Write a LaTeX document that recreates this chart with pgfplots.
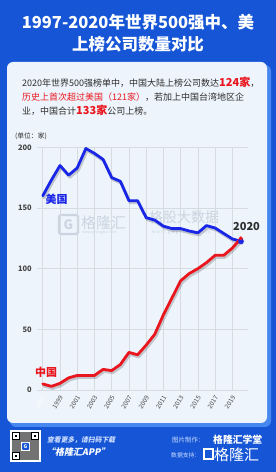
\documentclass[border=0pt]{standalone}
\usepackage{pgfplots}
\usepackage{pgfplotstable}
\pgfplotsset{compat=1.18}
\usepackage{fontspec}
\setmainfont{Noto Sans CJK SC}
\newfontfamily\cjkit{Noto Sans CJK SC}[FakeSlant=0.2]
\definecolor{bgblue}{RGB}{22,86,214}
\definecolor{shadowblue}{RGB}{70,135,240}
\definecolor{card}{RGB}{237,244,251}
\definecolor{usblue}{RGB}{25,38,232}
\definecolor{cnred}{RGB}{234,22,30}
\definecolor{txt}{RGB}{45,45,45}
\definecolor{gridc}{RGB}{214,219,226}
\definecolor{wm}{RGB}{203,212,224}
\pgfplotstableread{
year us cn
1997 160 5
1998 173 3
1999 185 5.5
2000 177 10
2001 183 12
2002 199 12
2003 195 12
2004 190 17
2005 175 16
2006 172 21
2007 156 31
2008 156 29
2009 142 37
2010 140 46
2011 135 62
2012 133 76
2013 133 90
2014 131 96
2015 129.5 100
2016 135.5 105
2017 133.5 111
2018 129 111
2019 124.5 117
2020 122.5 125
}\datatable
\begin{document}
\begin{tikzpicture}[x=1pt,y=1pt]
\fill[bgblue] (0,0) rectangle (276,472);
\fill[shadowblue, rounded corners=6pt] (10,45) rectangle (271,407);
\fill[card, rounded corners=6pt] (7,49) rectangle (267,410);
% title
\node[white, font=\bfseries\fontsize{16.5}{18}\selectfont, inner sep=0] at (138,450) {1997-2020年世界500强中、美};
\node[white, font=\bfseries\fontsize{16.5}{18}\selectfont, inner sep=0] at (138,428) {上榜公司数量对比};
% paragraph
\node[anchor=base west, inner sep=0, font=\fontsize{9}{11}\selectfont, text=txt] at (22,385.5)
 {2020年世界500强榜单中，中国大陆上榜公司数达\textcolor{cnred}{\bfseries\fontsize{11}{12}\selectfont 124家}，};
\node[anchor=base west, inner sep=0, font=\fontsize{9}{11}\selectfont, text=txt] at (22,371.5)
 {\textcolor{cnred}{历史上首次超过美国（121家）}，若加上中国台湾地区企};
\node[anchor=base west, inner sep=0, font=\fontsize{9}{11}\selectfont, text=txt] at (22,357.5)
 {业，中国合计\textcolor{cnred}{\bfseries\fontsize{11}{12}\selectfont 133家}公司上榜。};
% unit
\node[font=\fontsize{6.8}{8}\selectfont, text=txt, inner sep=0] at (31,336) {(单位：家)};
% watermarks
\draw[wm, line width=2.2pt, rounded corners=1.5pt] (59,238) rectangle (78,257);
\node[wm, font=\bfseries\fontsize{13}{14}\selectfont, inner sep=0] at (68.5,247.5) {G};
\node[wm, font=\fontsize{15}{16}\selectfont, inner sep=0, anchor=west] at (81,249) {格隆汇};
\node[wm, font=\fontsize{3.6}{4}\selectfont, inner sep=0, anchor=west] at (82,239.5) {www.gelonghui.com};
\node[wm, font=\fontsize{14}{15}\selectfont, inner sep=0] at (184,254.5) {格股大数据};
\node[wm, font=\fontsize{4.5}{5}\selectfont, inner sep=0] at (181,240) {w w w . g o g u d a t a . c o m};
\begin{axis}[
  at={(37pt,82pt)}, anchor=south west, scale only axis,
  width=211.3pt, height=242.7pt,
  xmin=1996.33, xmax=2020.85, ymin=0, ymax=200,
  clip=false,
  axis line style={draw=none},
  tick style={draw=none},
  grid=major, grid style={gridc, line width=0.6pt},
  ytick={0,50,100,150,200},
  yticklabels={0,50,100,150,200},
  yticklabel style={font=\bfseries\fontsize{7.5}{8}\selectfont, text={rgb,255:red,70;green,70;blue,70}, inner sep=0pt, anchor=east, xshift=-5pt},
  xtick={1997,1999,...,2019},
  xticklabels={\textcolor{white}{1997},1999,2001,2003,2005,2007,2009,2011,2013,2015,2017,2019},
  xticklabel style={font=\fontsize{6.3}{7}\selectfont, text={rgb,255:red,70;green,70;blue,70}, inner sep=0pt, xshift=1.5pt, yshift=-6.5pt, rotate=58, anchor=east},
]
\addplot[black, opacity=0.18, line width=3pt, line join=round, line cap=round, shift={(1.2pt,-2pt)}] table[x=year,y=us] {\datatable};
\addplot[black, opacity=0.18, line width=3pt, line join=round, line cap=round, shift={(1.2pt,-2pt)}] table[x=year,y=cn] {\datatable};
\addplot[usblue, line width=2.8pt, line join=round, line cap=round] table[x=year,y=us] {\datatable};
\addplot[cnred, line width=2.8pt, line join=round, line cap=round] table[x=year,y=cn] {\datatable};
\addplot[only marks, mark=*, mark size=2.6pt, usblue] coordinates {(2020,122.5)};
\addplot[only marks, mark=*, mark size=1.8pt, cnred] coordinates {(2020,125)};
\end{axis}
\node[usblue, font=\bfseries\fontsize{11}{12}\selectfont, inner sep=0] at (56.5,273) {美国};
\node[cnred, font=\bfseries\fontsize{11}{12}\selectfont, inner sep=0] at (46,100) {中国};
\node[txt, font=\bfseries\fontsize{11}{12}\selectfont, inner sep=0] at (246.5,245) {2020};
% footer QR
\fill[white] (10,10) rectangle (41,42);
\fill[black!55] (12,12) rectangle (39,40);
\foreach \a/\b in {12/32,31/32,12/12}{
  \fill[black] (\a,\b) rectangle ++(8,8);
  \fill[white] (\a+1.3,\b+1.3) rectangle ++(5.4,5.4);
  \fill[black] (\a+2.6,\b+2.6) rectangle ++(2.8,2.8);
}
\fill[white] (21,21) rectangle (30,30);
\fill[bgblue, rounded corners=1pt] (22,22) rectangle (29,29);
\node[white, font=\bfseries\fontsize{5}{5}\selectfont, inner sep=0] at (25.5,25.5) {G};
\node[anchor=west, inner sep=0, text={rgb,255:red,205;green,222;blue,255}, font=\cjkit\bfseries\fontsize{6.8}{7}\selectfont] at (47,32) {查看更多，请扫码下载};
\node[anchor=west, inner sep=0, text=white, font=\cjkit\bfseries\fontsize{9}{10}\selectfont] at (46,19.5) {“格隆汇APP”};
\node[anchor=west, inner sep=0, text={rgb,255:red,205;green,222;blue,255}, font=\fontsize{6.5}{7}\selectfont] at (172,32) {图片制作：};
\node[anchor=west, inner sep=0, text=white, font=\bfseries\fontsize{9.8}{10}\selectfont] at (213,32.5) {格隆汇学堂};
\node[anchor=west, inner sep=0, text={rgb,255:red,205;green,222;blue,255}, font=\fontsize{5.8}{6}\selectfont] at (171,17) {数据支持：};
\draw[white, line width=2pt] (203.5,12.5) rectangle (212.5,23);
\node[anchor=west, inner sep=0, text=white, font=\fontsize{15}{16}\selectfont] at (214,17.5) {格隆汇};
\end{tikzpicture}
\end{document}
